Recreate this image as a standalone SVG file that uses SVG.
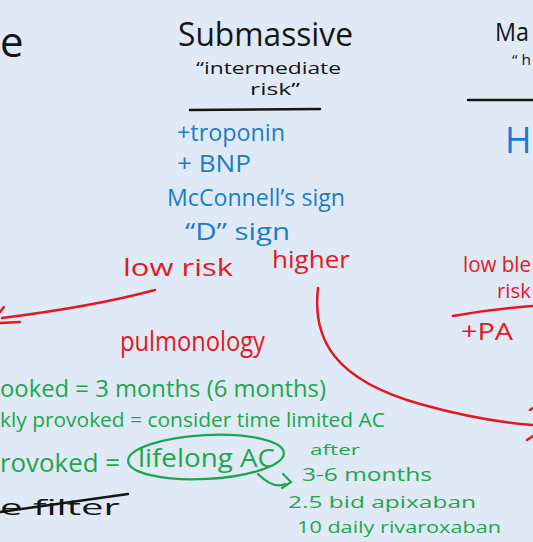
<svg xmlns="http://www.w3.org/2000/svg" width="533" height="542" viewBox="0 0 533 542">
<defs>
<style>
text{font-family:"Open Sans","Noto Sans",sans-serif;font-weight:400}
.k{fill:#151515}
.b{fill:#1b7ccc}
.r{fill:#e8161e}
.g{fill:#1ea64c}
.lk{stroke:#151515;stroke-width:2.5;fill:none;stroke-linecap:round}
.lr{stroke:#e8161e;stroke-width:2.5;fill:none;stroke-linecap:round}
.lg{stroke:#1ea64c;stroke-width:2.2;fill:none;stroke-linecap:round}
</style>
</defs>
<rect width="533" height="542" fill="#dfeaf6"/>
<g id="col-left">
<text class="k" x="0" y="57" font-size="42">e</text>
</g>
<g id="col-submassive">
<text class="k" x="178" y="46" font-size="33" textLength="175" lengthAdjust="spacingAndGlyphs">Submassive</text>
<text class="k" x="196" y="74" font-size="16" textLength="145" lengthAdjust="spacingAndGlyphs">“intermediate</text>
<text class="k" x="250" y="95" font-size="16" textLength="50" lengthAdjust="spacingAndGlyphs">risk”</text>
<path class="lk" d="M190,110 L320,109"/>
<text class="b" x="177" y="141" font-size="23" textLength="108" lengthAdjust="spacingAndGlyphs">+troponin</text>
<text class="b" x="177" y="172" font-size="23" textLength="74" lengthAdjust="spacingAndGlyphs">+ BNP</text>
<text class="b" x="167" y="206" font-size="23" textLength="178" lengthAdjust="spacingAndGlyphs">McConnell’s sign</text>
<text class="b" x="185" y="240" font-size="23" textLength="105" lengthAdjust="spacingAndGlyphs">“D”  sign</text>
</g>
<g id="col-massive">
<text class="k" x="495" y="41" font-size="26" textLength="34" lengthAdjust="spacingAndGlyphs">Ma</text>
<text class="k" x="512" y="65" font-size="15" textLength="19" lengthAdjust="spacingAndGlyphs">“ h</text>
<path class="lk" d="M468,100 L533,100"/>
<text class="b" x="505" y="153" font-size="36">H</text>
</g>
<g id="low-risk">
<text class="r" x="123" y="276" font-size="24" textLength="110" lengthAdjust="spacingAndGlyphs">low risk</text>
</g>
<g id="higher">
<text class="r" x="272" y="268" font-size="24" textLength="78" lengthAdjust="spacingAndGlyphs">higher</text>
</g>
<g id="pulmonology">
<text class="r" x="120" y="351" font-size="28" textLength="145" lengthAdjust="spacingAndGlyphs">pulmonology</text>
</g>
<g id="low-bleed">
<text class="r" x="463" y="272" font-size="21" textLength="68" lengthAdjust="spacingAndGlyphs">low ble</text>
<text class="r" x="497" y="298" font-size="20" textLength="34" lengthAdjust="spacingAndGlyphs">risk</text>
<path class="lr" d="M453,316 C480,311 505,308 533,306"/>
<text class="r" x="461" y="340" font-size="24" textLength="52" lengthAdjust="spacingAndGlyphs">+PA</text>
</g>
<g id="green-notes">
<text class="g" x="0" y="397" font-size="23" textLength="326" lengthAdjust="spacingAndGlyphs">ooked = 3 months (6 months)</text>
<text class="g" x="0" y="427" font-size="20" textLength="385" lengthAdjust="spacingAndGlyphs">kly provoked = consider time limited AC</text>
<text class="g" x="0" y="472" font-size="25" textLength="120" lengthAdjust="spacingAndGlyphs">rovoked =</text>
<ellipse class="lg" cx="206" cy="457" rx="78" ry="22" transform="rotate(-3 206 457)"/>
<text class="g" x="138" y="467" font-size="25" textLength="137" lengthAdjust="spacingAndGlyphs">lifelong AC</text>
<text class="g" x="310" y="455" font-size="15" textLength="50" lengthAdjust="spacingAndGlyphs">after</text>
<text class="g" x="302" y="481" font-size="19" textLength="130" lengthAdjust="spacingAndGlyphs">3-6 months</text>
<text class="g" x="288" y="508" font-size="17" textLength="188" lengthAdjust="spacingAndGlyphs">2.5 bid apixaban</text>
<text class="g" x="297" y="533" font-size="17" textLength="204" lengthAdjust="spacingAndGlyphs">10 daily rivaroxaban</text>
</g>
<g id="filter">
<text class="k" x="0" y="515" font-size="22" textLength="120" lengthAdjust="spacingAndGlyphs">e filter</text>
<path class="lk" d="M0,512 L128,494"/>
</g>
<g id="connectors">
<path class="lr" d="M155,290 C110,302 50,312 2,318"/>
<path class="lr" d="M4,307 L0,312 M0,323 L20,322"/>
<path class="lr" d="M318,288 C312,340 335,380 420,404 C470,418 505,423 533,425"/>
<path class="lr" d="M530,410 L533,408 M527,440 L533,436"/>
<path class="lg" d="M258,474 C266,482 276,488 285,484"/>
<path class="lg" d="M283,474 L291,482 L282,488"/>
</g>
</svg>
